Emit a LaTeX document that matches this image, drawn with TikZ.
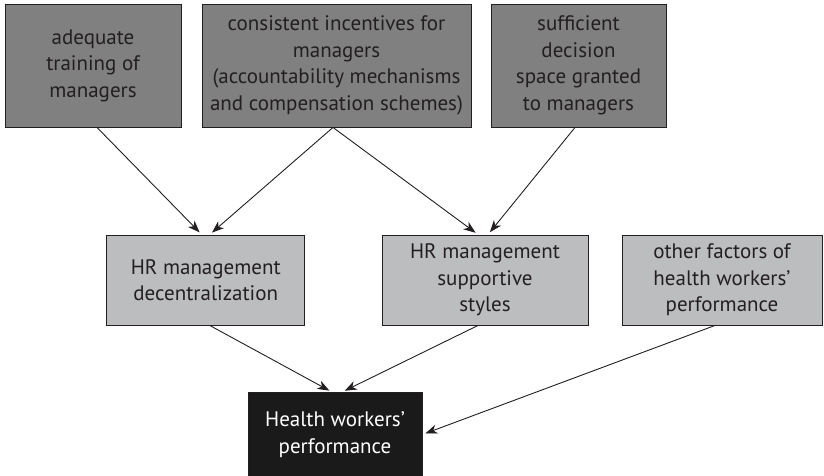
\documentclass[tikz,border=0pt]{standalone}
\usepackage{fontspec}
\setmainfont{PT Sans}
\usetikzlibrary{arrows.meta}
\definecolor{darkbox}{HTML}{808080}
\definecolor{lightbox}{HTML}{BCBDBF}
\definecolor{blackbox}{HTML}{1A1A1A}
\definecolor{txt}{HTML}{231F20}
\tikzset{
  basebox/.style={draw=txt, line width=0.9pt, align=center, inner sep=2pt,
    font=\fontsize{21}{26.5}\selectfont, text=txt},
  topbox/.style={basebox, fill=darkbox, minimum height=123pt},
  midbox/.style={basebox, fill=lightbox, minimum height=90pt},
  endbox/.style={basebox, fill=blackbox, text=white, minimum height=84pt},
  link/.style={draw=txt, line width=0.9pt, -{Stealth[length=12pt,width=9pt,inset=3.5pt]}, shorten >=3pt}
}
\begin{document}
\begin{tikzpicture}[x=1pt,y=-1pt]
\useasboundingbox (0,0) rectangle (824,476);
\node[topbox, minimum width=176pt] (b1) at (93,65.5) {adequate\\training of\\managers};
\node[topbox, minimum width=269pt] (b2) at (336.5,65.5) {consistent incentives for\\managers\\(accountability mechanisms\\and compensation schemes)};
\node[topbox, minimum width=175pt] (b3) at (578.5,65.5) {sufficient\\decision\\space granted\\to managers};
\node[midbox, minimum width=198pt] (b4) at (205.75,280) {HR management\\decentralization};
\node[midbox, minimum width=206pt] (b5) at (485,280) {HR management\\supportive\\styles};
\node[midbox, minimum width=200pt] (b6) at (722,280) {other factors of\\health workers'\\performance};
\node[endbox, minimum width=174pt] (b7) at (335,434.5) {Health workers'\\performance};
\draw[link] ([xshift=4pt]b1.south) -- ([xshift=-4pt]b4.north);
\draw[link] ([xshift=-3.5pt]b2.south) -- ([xshift=4pt]b4.north);
\draw[link] ([xshift=-3.5pt]b2.south) -- ([xshift=-7pt]b5.north);
\draw[link] ([xshift=-3.5pt]b3.south) -- ([xshift=3pt]b5.north);
\draw[link] ([xshift=4pt]b4.south) -- ([xshift=-3pt]b7.north);
\draw[link] ([xshift=-7pt]b5.south) -- ([xshift=7pt]b7.north);
\draw[link] ([xshift=-7pt]b6.south) -- (b7.east);
\end{tikzpicture}
\end{document}
